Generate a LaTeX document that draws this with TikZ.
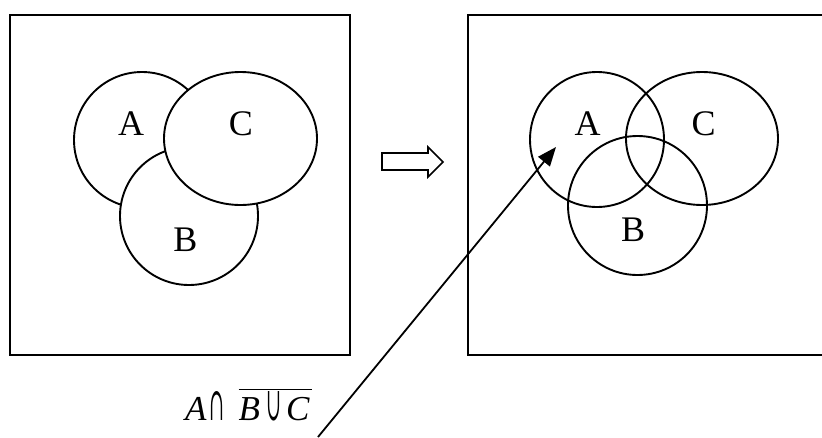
\documentclass[tikz,border=0pt]{standalone}
\usepackage{fontspec}
\setmainfont{Liberation Serif}
\newfontfamily\opfont{DejaVu Serif}
\usetikzlibrary{arrows.meta,shapes.geometric}
\newcommand{\narrowop}[1]{\resizebox{15pt}{29pt}{\opfont #1}}
\begin{document}
\begin{tikzpicture}[x=1pt,y=-1pt,
  frame/.style={draw=black,line width=1.9pt},
  setshape/.style={draw=black,fill=white,line width=1.9pt,ellipse,inner sep=0pt},
  lbl/.style={inner sep=0pt,font=\fontsize{36}{40}\selectfont},
  conn/.style={line width=1.8pt,-{Triangle[length=19pt,width=15pt]}}]
\useasboundingbox (0,0) rectangle (822,437);
% frames
\draw[frame] (10,15) rectangle (350,355);
\draw[frame] (468,15) rectangle (840,355);
% left diagram
\node[setshape,minimum width=136pt,minimum height=136pt] (lA) at (142,140) {};
\node[setshape,minimum width=138pt,minimum height=138pt] (lB) at (189,216) {};
\node[setshape,minimum width=153pt,minimum height=133pt] (lC) at (240.5,138.5) {};
\node[lbl] (tlA) at (131,124) {A};
\node[lbl] (tlC) at (241,124) {C};
\node[lbl] (tlB) at (185.5,239.5) {B};
% right diagram
\begin{scope}[every node/.style={draw=black,line width=1.9pt,ellipse,inner sep=0pt}]
\node[minimum width=134pt,minimum height=135pt] (rA) at (597,139.5) {};
\node[minimum width=152pt,minimum height=133pt] (rC) at (702,138.5) {};
\node[minimum width=139pt,minimum height=139pt] (rB) at (637.5,205.5) {};
\end{scope}
\node[lbl] (trA) at (587.5,124) {A};
\node[lbl] (trC) at (703.5,124) {C};
\node[lbl] (trB) at (633,229.5) {B};
% hollow arrow
\draw[line width=1.6pt,line join=miter] (382,153) -- (428,153) -- (428,147) -- (443,162) -- (428,177) -- (428,170) -- (382,170) -- cycle;
% formula and pointer
\node[inner sep=0pt,anchor=base west,font=\fontsize{35}{40}\selectfont] (formula) at (185,420)
  {\textit{A}\hspace{3pt}\narrowop{∩}\hspace{14pt}$\overline{\hbox{\textit{B}\hspace{6pt}\narrowop{∪}\hspace{5pt}\textit{C}\hspace{2pt}}}$};
\coordinate (tail) at (318,437);
\coordinate (tip) at (556,147);
\draw[conn] (tail) -- (tip);
\end{tikzpicture}
\end{document}
